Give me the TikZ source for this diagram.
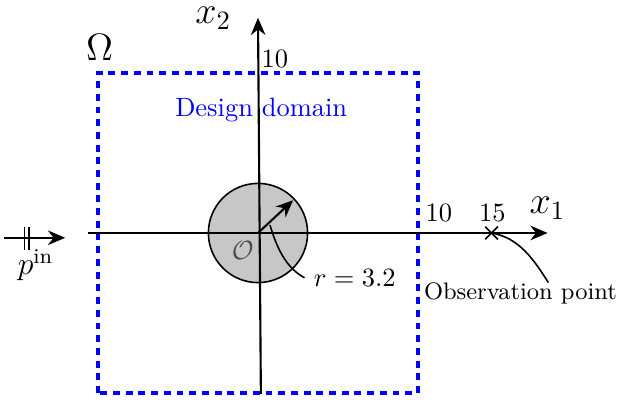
\documentclass[tikz,border=0pt]{standalone}
\usepackage{amsmath, amssymb}
\usetikzlibrary{arrows.meta, positioning, calc}

\tikzset{
  domainline/.style={blue, very thick, dash pattern=on 2.6pt off 2.2pt},
  axis/.style={thick, -{Stealth[length=6.5pt, width=5.5pt]}},
}

\begin{document}
\begin{tikzpicture}[x=0.2124cm, y=0.2124cm]
        \useasboundingbox (-16.125, -10.75) rectangle (22.625, 14.5625);

        % Scatterer
        \coordinate (O) at (0, 0);
        \draw[semithick, fill=black!22] (O) circle (3.1);
        \node[text=black!70] (olabel) at (-0.95, -1.1) {$\mathcal{O}$};

        % Design domain
        \draw[domainline] (-10, -10) rectangle (10, 10);
        \node[font=\Large] (omega) at (-9.9, 11.6) {$\Omega$};
        \node[blue] (design) at (0.2, 7.7) {Design domain};

        % Axes
        \coordinate (x1start) at (-10.6, 0);
        \coordinate (x1end) at (18.1, 0);
        \coordinate (x2start) at (0.18, -10.05);
        \coordinate (x2end) at (0, 13.45);
        \draw[axis] (x1start) -- (x1end);
        \draw[axis] (x2start) -- (x2end);
        \node[font=\Large] (x1label) at (18.1, 1.55) {$x_1$};
        \node[font=\Large, inner sep=0.5pt] (x2label) at (-2.8, 13.4) {$x_2$};
        \node (ten2) at (1.05, 10.9) {$10$};
        \node (ten1) at (11.3, 1.25) {$10$};
        \node (fifteen) at (14.65, 1.25) {$15$};

        % Radius
        \coordinate (rtip) at (2.2, 2.05);
        \draw[thick, -{Stealth[length=6.5pt, width=5.5pt]}] (O) -- (rtip);
        \coordinate (rfoot) at (0.75, 0.5);
        \node (rlabel) at (6.05, -2.8) {$r = 3.2$};
        \draw[semithick] (rfoot) .. controls (1.3, -1.4) and (2.0, -2.3) .. (rlabel.west);

        % Observation point
        \coordinate (obs) at (14.6, 0);
        \draw[semithick] ($(obs)+(-0.4,-0.4)$) -- ($(obs)+(0.4,0.4)$);
        \draw[semithick] ($(obs)+(-0.4,0.4)$) -- ($(obs)+(0.4,-0.4)$);
        \node[font=\small] (obslabel) at (16.4, -3.75) {Observation point};
        \coordinate (obsend) at (18.15, -3.1);
        \draw[semithick] (obs) .. controls (16.3, -0.3) and (17.2, -1.6) .. (obsend);

        % Incident wave
        \coordinate (pinstart) at (-15.9, -0.3);
        \coordinate (pinend) at (-12.05, -0.3);
        \draw[axis] (pinstart) -- (pinend);
        \draw[semithick] (-14.6, 0.4) -- (-14.6, -1.05);
        \draw[semithick] (-14.3, 0.4) -- (-14.3, -1.05);
        \node[font=\large] (pin) at (-13.9, -2.0) {$p^{\text{in}}$};
    \end{tikzpicture}
\end{document}
